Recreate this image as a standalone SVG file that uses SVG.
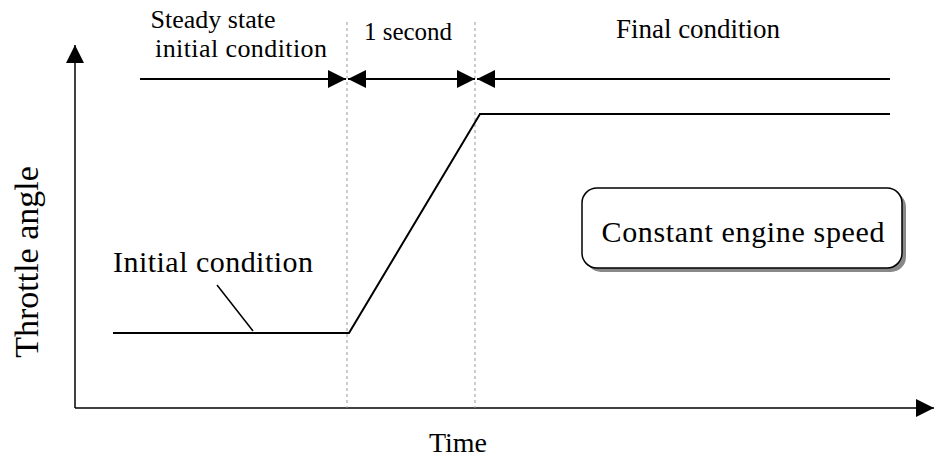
<svg xmlns="http://www.w3.org/2000/svg" width="934" height="457" viewBox="0 0 934 457">
<style>
.t{font-family:'Liberation Serif','DejaVu Serif',serif;fill:#000}
.ln{stroke:#000;stroke-width:2;fill:none}
.dash{stroke:#999;stroke-width:1;stroke-dasharray:3,3;fill:none}
</style>
<defs>
<marker id="ah" viewBox="0 0 10 10" refX="10" refY="5" markerWidth="18" markerHeight="18" markerUnits="userSpaceOnUse" orient="auto"><path d="M0,0 L10,5 L0,10 Z" fill="#000"/></marker>
</defs>
<g id="axes">
<line class="ln" x1="75" y1="408" x2="75" y2="45" marker-end="url(#ah)" style="stroke-width:1.5"/>
<line class="ln" x1="75" y1="408" x2="934" y2="408" marker-end="url(#ah)" style="stroke-width:1.5"/>
</g>
<g id="guides">
<line class="dash" x1="347" y1="22" x2="347" y2="408"/>
<line class="dash" x1="475" y1="22" x2="475" y2="408"/>
</g>
<g id="connectors">
<line class="ln" x1="140" y1="79" x2="346" y2="79" marker-end="url(#ah)"/>
<line class="ln" x1="458" y1="79" x2="348" y2="79" marker-end="url(#ah)"/>
<line class="ln" x1="400" y1="79" x2="475" y2="79" marker-end="url(#ah)"/>
<line class="ln" x1="890" y1="79" x2="477" y2="79" marker-end="url(#ah)"/>
<line class="ln" x1="217" y1="285" x2="253" y2="331" style="stroke-width:1.5"/>
</g>
<g id="curve">
<polyline class="ln" points="113,333 349,333 480,114 890,114"/>
</g>
<g id="labels" font-family="Liberation Serif, DejaVu Serif, serif">
<text class="t" x="213" y="28" font-size="26" text-anchor="middle">Steady state</text>
<text class="t" x="241" y="57" font-size="26" text-anchor="middle" textLength="172">initial condition</text>
<text class="t" x="408" y="40" font-size="25" text-anchor="middle">1 second</text>
<text class="t" x="698" y="38" font-size="27" text-anchor="middle">Final condition</text>
<text class="t" x="113" y="272" font-size="30" textLength="200">Initial condition</text>
<text class="t" x="458" y="452" font-size="28" text-anchor="middle">Time</text>
<text class="t" transform="translate(38,262) rotate(-90)" font-size="34" text-anchor="middle">Throttle angle</text>
</g>
<g id="box">
<rect x="586" y="192" width="320" height="80" rx="15" fill="#888"/>
<rect x="582" y="188" width="320" height="80" rx="15" fill="#fff" stroke="#000" stroke-width="1.5"/>
<text class="t" font-family="Liberation Serif, DejaVu Serif, serif" x="743" y="242" font-size="30" text-anchor="middle" textLength="283">Constant engine speed</text>
</g>
</svg>
